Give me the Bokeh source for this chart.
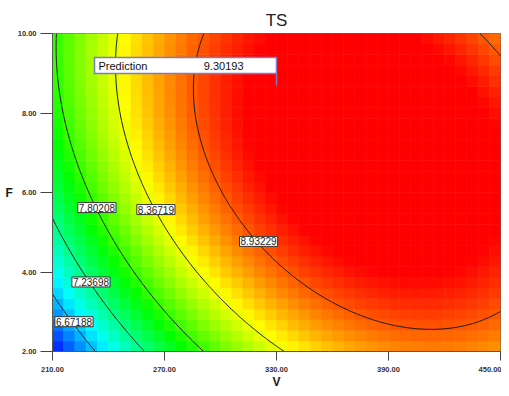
import numpy as np
from bokeh.plotting import figure
from bokeh.models import Range1d, FixedTicker, PrintfTickFormatter, Label, ColumnDataSource
from bokeh.embed import file_html
from bokeh.resources import INLINE
from bokeh.core.properties import value

# ---------------- data ----------------
TITLE = "TS"
X_LABEL = "V"
Y_LABEL = "F"
X_TICKS = [210, 270, 330, 390, 450]
Y_TICKS = [2, 4, 6, 8, 10]
CONTOUR_LEVELS = [6.67188, 7.23698, 7.80208, 8.36719, 8.93229]

# points (V, F)
C1_V = [210.0, 223.4, 232.0]
C1_F = [3.36, 2.60, 2.00]
C2_V = [210.0, 221.3, 234.1, 258.8]
C2_F = [5.32, 4.34, 3.53, 2.00]
C3_V = [213.2, 218.0, 221.3, 228.8, 237.3, 244.8, 262.5, 290.4]
C3_F = [10.0, 7.56, 6.98, 6.13, 5.30, 4.54, 3.61, 2.00]
C4_V = [245.4, 244.3, 247.5, 255.5, 264.1, 274.8, 278.6, 296.3, 314.5, 333.3]
C4_F = [10.0, 8.49, 7.81, 6.55, 5.62, 4.79, 4.47, 3.61, 2.78, 2.00]
C5_V = [288.2, 285.5, 289.3, 298.9, 309.1, 321.4, 337.5, 355.2, 375.0, 411.4, 450.0, 437.7, 450.0]
C5_F = [10.0, 8.28, 7.03, 6.03, 5.27, 4.52, 4.11, 3.53, 2.86, 2.50, 2.96, 10.0, 9.42]

PRED_V = 330.0
PRED_F = 8.69
PRED_VALUE = 9.30193

# where each contour value label sits (same order as CONTOUR_LEVELS)
LABEL_V = [221.5, 230.6, 233.8, 265.4, 320.4]
LABEL_F = [2.75, 3.75, 5.62, 5.57, 4.77]

# colour scale: blue -> cyan -> green -> yellow -> red over this response range
COLOR_DOMAIN = [6.10, 9.20]

# ---------------- response surface (quadratic, coded factors) ----------------
V_LO, V_HI = X_TICKS[0], X_TICKS[-1]
F_LO, F_HI = Y_TICKS[0], Y_TICKS[-1]


def coded(v, f):
    v = np.asarray(v, float)
    f = np.asarray(f, float)
    return (v - (V_LO + V_HI) / 2) / ((V_HI - V_LO) / 2), (f - (F_LO + F_HI) / 2) / ((F_HI - F_LO) / 2)


def terms(a, b):
    return np.column_stack([np.ones_like(a), a, b, a * b, a * a, b * b])


traces = [(C1_V, C1_F), (C2_V, C2_F), (C3_V, C3_F), (C4_V, C4_F), (C5_V, C5_F)]
pv, pf, pz = [], [], []
for lev, (tv, tf) in zip(CONTOUR_LEVELS, traces):
    pv += tv
    pf += tf
    pz += [lev] * len(tv)
for _ in range(3):
    pv.append(PRED_V)
    pf.append(PRED_F)
    pz.append(PRED_VALUE)
A, B = coded(pv, pf)
coef, *_ = np.linalg.lstsq(terms(A, B), np.array(pz), rcond=None)


def model(v, f):
    a, b = coded(v, f)
    shp = a.shape
    return (terms(a.ravel(), b.ravel()) @ coef).reshape(shp)


# ---------------- figure ----------------
p = figure(width=501, height=391, x_range=Range1d(V_LO, V_HI), y_range=Range1d(F_LO, F_HI),
           output_backend="svg", toolbar_location=None, title=TITLE,
           min_border_left=52, min_border_right=1, min_border_top=33, min_border_bottom=40)
p.background_fill_color = "white"
p.border_fill_color = "white"
p.outline_line_color = "#666666"
p.outline_line_width = 1
p.grid.visible = False

# pixel-cell heat map
NX, NY = 40, 30
ve = np.linspace(V_LO, V_HI, NX + 1)
fe = np.linspace(F_LO, F_HI, NY + 1)
vc = (ve[:-1] + ve[1:]) / 2
fc = (fe[:-1] + fe[1:]) / 2
VV, FF = np.meshgrid(vc, fc)
ZZ = model(VV, FF)
STOPS = np.array([(0, 0, 255), (0, 255, 255), (0, 255, 0), (255, 255, 0), (255, 0, 0)], float)


def colour(z):
    t = np.clip((z - COLOR_DOMAIN[0]) / (COLOR_DOMAIN[1] - COLOR_DOMAIN[0]), 0, 1) * (len(STOPS) - 1)
    i = min(int(t), len(STOPS) - 2)
    u = t - i
    c = (1 - u) * STOPS[i] + u * STOPS[i + 1]
    return "#%02x%02x%02x" % tuple(int(round(x)) for x in c)


L, R, Bt, T, C = [], [], [], [], []
for j in range(NY):
    for i in range(NX):
        L.append(ve[i]); R.append(ve[i + 1]); Bt.append(fe[j]); T.append(fe[j + 1])
        C.append(colour(ZZ[j, i]))
src = ColumnDataSource(dict(left=L, right=R, bottom=Bt, top=T, color=C))
p.quad(left="left", right="right", bottom="bottom", top="top", fill_color="color",
       line_color="color", line_width=0.6, source=src)

# contour lines
xs = np.linspace(V_LO, V_HI, 241)
ys = np.linspace(F_LO, F_HI, 161)
XG, YG = np.meshgrid(xs, ys)
p.contour(xs, ys, model(XG, YG), CONTOUR_LEVELS, line_color="#1a1a1a", line_width=1)

# contour value labels
for lev, lv, lf in zip(CONTOUR_LEVELS, LABEL_V, LABEL_F):
    p.add_layout(Label(x=lv, y=lf, text=f"{lev:.5f}", text_align="center", text_baseline="middle",
                       text_font="Liberation Sans", text_font_size="10px", text_color="#222222",
                       background_fill_color="white", border_line_color="#333333",
                       border_line_width=1, padding=1))

# prediction flag
PX_V = (V_HI - V_LO) / 448.0
PX_F = (F_HI - F_LO) / 318.0
box_l = PRED_V - 182 * PX_V
box_b = PRED_F + 12 * PX_F
box_t = PRED_F + 28 * PX_F
p.quad(left=[box_l], right=[PRED_V], bottom=[box_b], top=[box_t], fill_color="white",
       line_color="#7b7bcc", line_width=1.5)
p.segment(x0=[PRED_V], y0=[PRED_F], x1=[PRED_V], y1=[box_b], line_color="#7b7bcc", line_width=1.5)
p.text(x=[box_l + 4 * PX_V], y=[(box_b + box_t) / 2], text=["Prediction"], text_align="left",
       text_baseline="middle", text_font=value("Liberation Sans"), text_font_size="11px",
       text_color="#111111")
p.text(x=[PRED_V - 33 * PX_V], y=[(box_b + box_t) / 2], text=[f"{PRED_VALUE:.5f}"], text_align="right",
       text_baseline="middle", text_font=value("Liberation Sans"), text_font_size="11px",
       text_color="#111111")

# axes
p.xaxis.ticker = FixedTicker(ticks=X_TICKS)
p.yaxis.ticker = FixedTicker(ticks=Y_TICKS)
p.xaxis.formatter = PrintfTickFormatter(format="%.2f")
p.yaxis.formatter = PrintfTickFormatter(format="%.2f")
p.xaxis.axis_label = X_LABEL
p.yaxis.axis_label = Y_LABEL
p.yaxis.axis_label_orientation = "horizontal"
for ax in (p.xaxis, p.yaxis):
    ax.axis_line_color = "#555555"
    ax.axis_line_width = 1
    ax.major_tick_line_color = "#444444"
    ax.minor_tick_line_color = None
    ax.major_tick_in = 0
    ax.major_label_text_font = "Liberation Sans"
    ax.major_label_text_font_size = "7.5px"
    ax.major_label_text_font_style = "bold"
    ax.major_label_text_color = "#333333"
    ax.axis_label_text_font = "Liberation Sans"
    ax.axis_label_text_font_style = "bold"
    ax.axis_label_text_font_size = "12px"
    ax.axis_label_text_color = "#1a1a1a"
    ax.axis_label_standoff = 2
p.xaxis.major_label_standoff = 6
p.yaxis.major_label_standoff = 4
p.xaxis.axis_label_standoff = 0
p.xaxis.major_tick_out = 9
p.yaxis.major_tick_out = 12

p.title.text_font = "Liberation Sans"
p.title.text_font_size = "17px"
p.title.text_font_style = "normal"
p.title.text_color = "#222222"
p.title.align = "center"
p.title.standoff = 8

open("out.html", "w").write(file_html(p, INLINE))
